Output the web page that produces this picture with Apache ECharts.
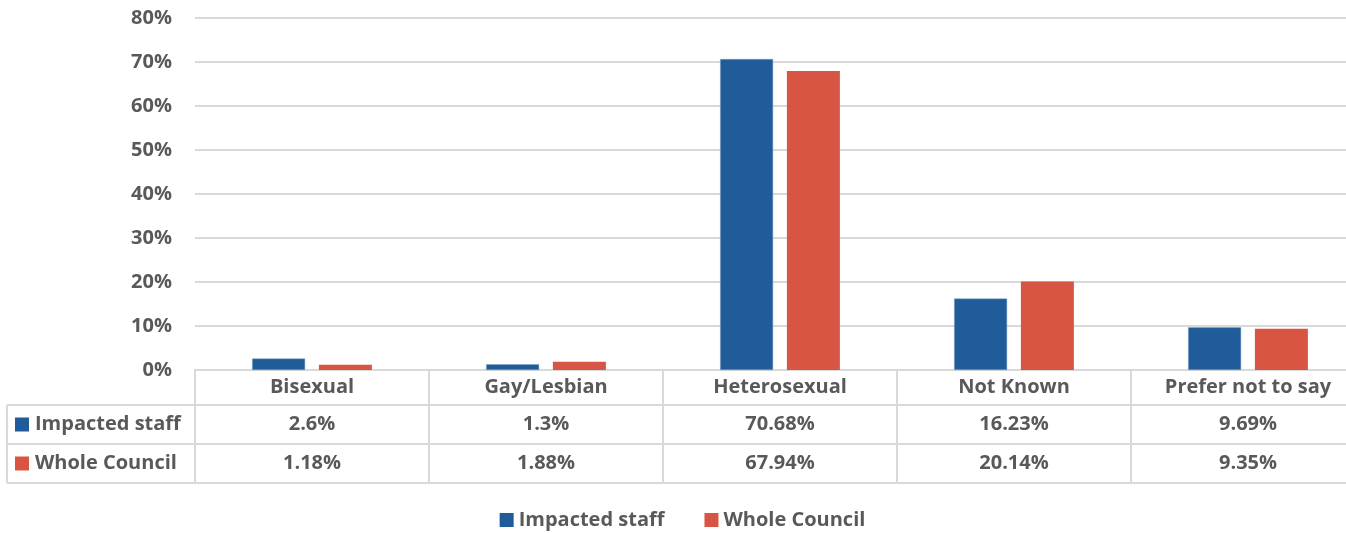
<!DOCTYPE html>
<html>
<head>
<meta charset="utf-8">
<script src="https://cdn.jsdelivr.net/npm/echarts@6/dist/echarts.min.js"></script>
<style>
html, body { margin: 0; padding: 0; background: #fff; overflow: hidden; }
#chart { width: 1365px; height: 533px; }
</style>
</head>
<body>
<div id="chart"></div>
<script>
const categories = ['Bisexual', 'Gay/Lesbian', 'Heterosexual', 'Not Known', 'Prefer not to say'];
const impactedStaff = [2.6, 1.3, 70.68, 16.23, 9.69];
const wholeCouncil = [1.18, 1.88, 67.94, 20.14, 9.35];
const seriesNames = ['Impacted staff', 'Whole Council'];
const colors = ['#1F5C99', '#D95543'];

const textColor = '#595959';
const lineColor = '#D9D9D9';
const font = '"Open Sans", Roboto, sans-serif';

const chart = echarts.init(document.getElementById('chart'));

const option = {
    animation: false,
    color: colors,
    grid: { left: 195, right: 0, top: 18, bottom: 163 },
    legend: {
        top: 505,
        left: 'center',
        icon: 'rect',
        itemWidth: 14,
        itemHeight: 14,
        itemGap: 40,
        itemStyle: { borderWidth: 0 },
        textStyle: { color: textColor, fontSize: 20, fontWeight: 'bold', fontFamily: font },
        data: seriesNames,
    },
    xAxis: {
        type: 'category',
        data: categories,
        axisLine: { lineStyle: { color: lineColor, width: 2 } },
        axisTick: { show: true, length: 113, lineStyle: { color: lineColor, width: 2 } },
        axisLabel: {
            color: textColor, fontSize: 20, fontWeight: 'bold', fontFamily: font,
            margin: 7,
        },
    },
    yAxis: {
        type: 'value',
        min: 0,
        max: 80,
        interval: 10,
        axisLabel: {
            formatter: '{value}%',
            color: textColor, fontSize: 20, fontWeight: 'bold', fontFamily: font,
            margin: 23,
        },
        splitLine: { lineStyle: { color: lineColor, width: 2 } },
    },
    series: [
        {
            name: seriesNames[0], type: 'bar', data: impactedStaff,
            barWidth: 53, barGap: '26%',
            itemStyle: { borderColor: '#7FA3C9', borderWidth: 0.5 },
        },
        {
            name: seriesNames[1], type: 'bar', data: wholeCouncil,
            barWidth: 53, barGap: '26%',
        },
    ],
};
chart.setOption(option);

// data table under the axis
const rows = [impactedStaff, wholeCouncil];
const fmt = v => v + '%';
const y0 = chart.convertToPixel({ yAxisIndex: 0 }, 0);
const rowH = [35, 39, 39];
const tableLeft = 7;
const tableRight = 1365;
const graphics = [];
let yy = y0 + rowH[0];
const lineY = [yy];
rows.forEach((r, i) => {
    const mid = yy + rowH[i + 1] / 2;
    graphics.push({
        type: 'rect', shape: { x: 15, y: mid - 7, width: 14, height: 14 },
        style: { fill: colors[i] },
    });
    graphics.push({
        type: 'text', x: 35, y: mid,
        style: {
            text: seriesNames[i], fill: textColor, font: 'bold 20px ' + font,
            verticalAlign: 'middle', align: 'left',
        },
    });
    r.forEach((v, j) => {
        const cx = chart.convertToPixel({ xAxisIndex: 0 }, categories[j]);
        graphics.push({
            type: 'text', x: cx, y: mid,
            style: {
                text: fmt(v), fill: textColor, font: 'bold 20px ' + font,
                verticalAlign: 'middle', align: 'center',
            },
        });
    });
    yy += rowH[i + 1];
    lineY.push(yy);
});
lineY.forEach(ly => {
    graphics.push({
        type: 'line', shape: { x1: tableLeft, y1: ly, x2: tableRight, y2: ly },
        style: { stroke: lineColor, lineWidth: 2 },
    });
});
graphics.push({
    type: 'line', shape: { x1: tableLeft, y1: lineY[0], x2: tableLeft, y2: yy },
    style: { stroke: lineColor, lineWidth: 2 },
});
chart.setOption({ graphic: graphics });
</script>
</body>
</html>
